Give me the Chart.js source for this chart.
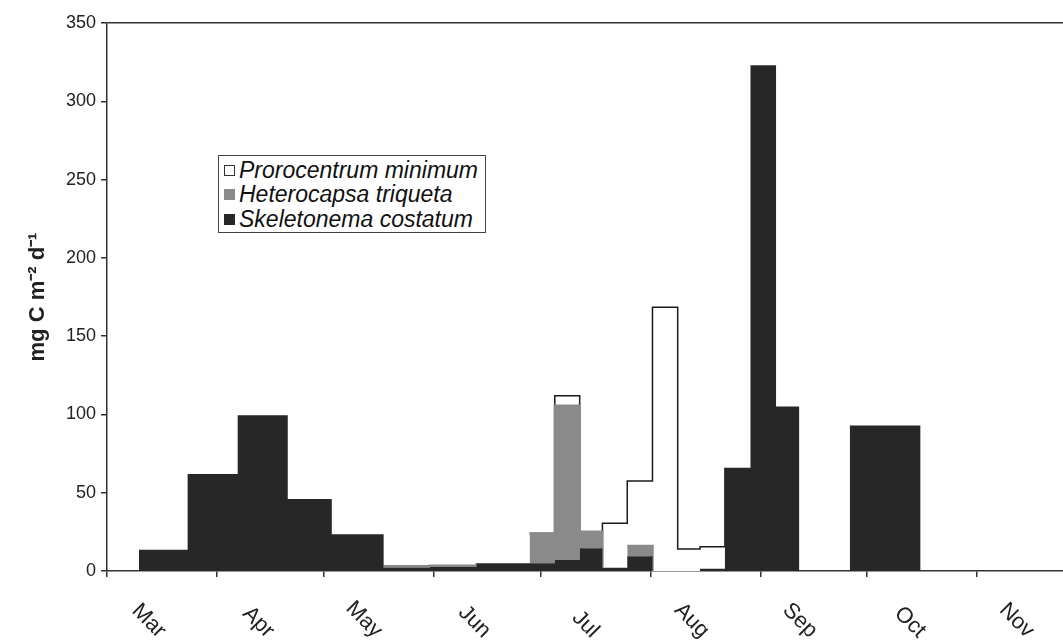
<!DOCTYPE html>
<html>
<head>
<meta charset="utf-8">
<script src="https://cdn.jsdelivr.net/npm/chart.js@4.4.1/dist/chart.umd.min.js"></script>
<style>
  body { margin: 0; background: #fff; }
  #wrap { position: relative; width: 1063px; height: 644px; }
  #legend {
    position: absolute; left: 218px; top: 155px; width: 266px;
    padding: 2px 0 0 0; border: 1.5px solid #444; background: #fff;
    font: italic 23px "Liberation Sans", Arial, sans-serif; color: #111;
  }
  #legend .row { display: flex; align-items: center; height: 24.5px; padding-left: 5px; white-space: nowrap; }
  #legend .sw { width: 11px; height: 11px; margin-right: 4px; box-sizing: border-box; }
</style>
</head>
<body>
<div id="wrap">
  <canvas id="chart" width="1063" height="644"></canvas>
  <div id="legend"></div>
</div>
<script>
// sampling periods in days counted from 1 March; each bar runs from one edge to the next
const binEdges = [9, 22.7, 36.8, 50.9, 63.3, 77.9, 91, 104.1, 119, 126.1, 133.1,
                  139.5, 146.5, 153.6, 160.7, 167, 174, 181.2, 188.4, 194.9, 209.2, 229.1];

// production per period, mg C m-2 d-1
const skeletonema  = [13.5, 62, 99.5, 46, 23.5, 2, 2.5, 5, 5, 7, 14.5, 2, 9.5, 0, 0, 1.5, 66, 323, 105, 0, 93];
const heterocapsa  = [0, 0, 0, 0, 0, 1, 0.8, 0, 19, 98.5, 10.5, 0, 6.5, 0, 0, 0, 0, 0, 0, 0, 0];
const prorocentrum = [0, 0, 0, 0, 0, 0, 0, 0, 0, 6.5, 0, 28.5, 41.5, 168.5, 14, 14, 0, 0, 0, 0, 0];

// first day of each month, Mar .. Dec
const monthStarts = [0, 31, 61, 92, 122, 153, 184, 214, 245, 275];
const monthLabels = ['Mar', 'Apr', 'May', 'Jun', 'Jul', 'Aug', 'Sep', 'Oct', 'Nov'];
const yTicks = [0, 50, 100, 150, 200, 250, 300, 350];

const X_MAX = 269.2;
const FONT = '"Liberation Sans", Arial, sans-serif';
const AXIS = '#333';
const DARK = '#272727';
const GREY = '#8a8a8a';

// one point per period start, closing back to zero after the last one
function steps(values) {
  const pts = values.map((v, i) => ({ x: binEdges[i], y: v }));
  pts.push({ x: binEdges[binEdges.length - 1], y: 0 });
  return pts;
}

// outline only the periods where the series is present
function edgeColor(values, color, either) {
  return ctx => {
    const a = values[ctx.p0DataIndex] || 0;
    const b = values[ctx.p1DataIndex] || 0;
    return (a > 0 || (either && b > 0)) ? color : 'rgba(0,0,0,0)';
  };
}

// 'before': hold each value up to the next edge, then step
const datasets = [
  {
    label: 'Skeletonema costatum', data: steps(skeletonema), swatch: DARK,
    stepped: 'before', fill: 'origin', backgroundColor: DARK, borderWidth: 0
  },
  {
    label: 'Heterocapsa triqueta', data: steps(heterocapsa), swatch: GREY,
    stepped: 'before', fill: '-1', backgroundColor: GREY, borderColor: GREY, borderWidth: 2.5,
    segment: { borderColor: edgeColor(heterocapsa, GREY, false) }
  },
  {
    label: 'Prorocentrum minimum', data: steps(prorocentrum), swatch: '#fff',
    stepped: 'before', fill: '-1', backgroundColor: '#fff', borderColor: '#1a1a1a', borderWidth: 1.5,
    segment: { borderColor: edgeColor(prorocentrum, '#1a1a1a', true) }
  }
];

new Chart(document.getElementById('chart'), {
  type: 'line',
  data: { datasets },
  options: {
    responsive: false,
    animation: false,
    events: [],
    layout: { padding: { top: 23, left: 0, right: 0, bottom: 0 } },
    elements: { point: { radius: 0 }, line: { tension: 0 } },
    plugins: { legend: { display: false }, tooltip: { enabled: false } },
    scales: {
      x: {
        type: 'linear', position: 'bottom', weight: 0,
        min: 0, max: X_MAX,
        afterBuildTicks: axis => { axis.ticks = monthStarts.filter(v => v <= X_MAX).map(v => ({ value: v })); },
        afterFit: axis => { axis.height = 18; },
        ticks: { display: false },
        grid: { drawOnChartArea: false, drawTicks: true, tickLength: 6, tickColor: AXIS, lineWidth: 1.5 },
        border: { display: true, color: AXIS, width: 1.5 }
      },
      months: {
        type: 'linear', axis: 'x', position: 'bottom', weight: 1,
        min: 0, max: X_MAX,
        afterBuildTicks: axis => {
          axis.ticks = monthLabels.map((m, i) => ({ value: (monthStarts[i] + monthStarts[i + 1]) / 2 }));
        },
        afterFit: axis => { axis.height = 55; },
        ticks: {
          callback: (value, i) => monthLabels[i],
          autoSkip: false, minRotation: -45, maxRotation: -45, padding: 36,
          color: '#222', font: { family: FONT, size: 22 }
        },
        grid: { display: false, drawTicks: false },
        border: { display: false }
      },
      y: {
        stacked: true,
        min: 0, max: 350,
        afterBuildTicks: axis => { axis.ticks = yTicks.map(v => ({ value: v })); },
        afterFit: axis => { axis.width = 107; },
        ticks: { padding: 5, color: '#222', font: { family: FONT, size: 18 } },
        grid: {
          color: c => (c.tick && c.tick.value === 350 ? AXIS : 'rgba(0,0,0,0)'),
          lineWidth: 1.5, tickLength: 6, tickColor: AXIS
        },
        border: { display: true, color: AXIS, width: 1.5 },
        title: {
          display: true, text: 'mg C m⁻² d⁻¹', color: '#222',
          font: { family: FONT, size: 22, weight: 'bold' },
          padding: { top: 25, bottom: 0 }
        }
      }
    }
  }
});

// legend box, top entry is the top of the stack
const legend = document.getElementById('legend');
datasets.slice().reverse().forEach(ds => {
  const row = document.createElement('div');
  row.className = 'row';
  const sw = document.createElement('span');
  sw.className = 'sw';
  sw.style.background = ds.swatch;
  sw.style.border = ds.swatch === '#fff' ? '1px solid #333' : 'none';
  row.appendChild(sw);
  row.appendChild(document.createTextNode(ds.label));
  legend.appendChild(row);
});
</script>
</body>
</html>
